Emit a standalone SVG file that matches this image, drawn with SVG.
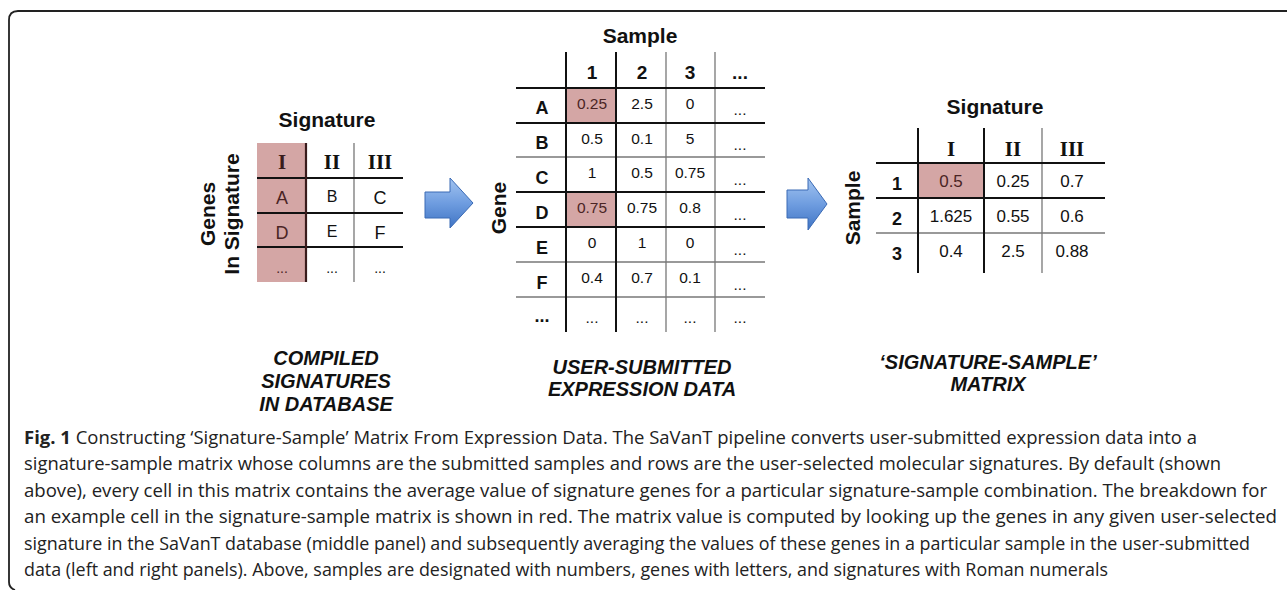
<svg xmlns="http://www.w3.org/2000/svg" width="1287" height="590" viewBox="0 0 1287 590">
<defs>
<linearGradient id="ag" x1="0" y1="0" x2="0" y2="1">
<stop offset="0" stop-color="#a3c4f0"/>
<stop offset="0.5" stop-color="#6f9de0"/>
<stop offset="1" stop-color="#3f74c4"/>
</linearGradient>
<style>
.t{font-family:"Liberation Sans",Arial,sans-serif;fill:#111;text-anchor:middle}
.b{font-weight:bold}
.ttl{font-size:21px;font-weight:bold}
.rom{font-family:"Liberation Serif","Times New Roman",serif;font-weight:bold;font-size:21px;fill:#111;text-anchor:middle}
.cap{font-size:20px;font-weight:bold;font-style:italic}
.thick{stroke:#111;stroke-width:2;fill:none}
.thin{stroke:#777;stroke-width:1.3;fill:none}
.brown{stroke:#3a1c1c;stroke-width:2.2;fill:none}
.pink{fill:#d4a6a5}
.pinkb{fill:#d4a6a5;stroke:#5a2222;stroke-width:1.5}
.pt{fill:#4a2424}
.arrow{fill:url(#ag);stroke:#3a6ab5;stroke-width:1}
.fig{font-family:"Open Sans","Noto Sans",sans-serif;font-size:18px;fill:#222}
</style>
</defs>
<path d="M1287,11 H18 Q9,11 9,20 V582 Q9,588 15,590" fill="none" stroke="#222" stroke-width="1.8"/>

<g id="left-panel">
<text class="t ttl" x="327" y="127">Signature</text>
<text class="t ttl" transform="translate(215,214) rotate(-90)">Genes</text>
<text class="t ttl" transform="translate(239,214) rotate(-90)">In Signature</text>
<rect class="pink" x="257" y="143" width="49" height="139"/>
<line class="thin" x1="354" y1="143" x2="354" y2="282"/>
<line class="thick" x1="257" y1="178" x2="403" y2="178"/>
<line class="thick" x1="257" y1="213" x2="403" y2="213"/>
<line class="thick" x1="257" y1="247" x2="403" y2="247"/>
<line class="brown" x1="306" y1="143" x2="306" y2="282"/>
<text class="rom" x="282" y="169" style="fill:#3a1c1c">I</text>
<text class="rom" x="332" y="169">II</text>
<text class="rom" x="380" y="169">III</text>
<text class="t pt" x="282" y="204" font-size="18">A</text>
<text class="t" x="332" y="202" font-size="16">B</text>
<text class="t" x="380" y="204" font-size="18">C</text>
<text class="t pt" x="282" y="239" font-size="18">D</text>
<text class="t" x="332" y="237" font-size="16">E</text>
<text class="t" x="380" y="239" font-size="18">F</text>
<text class="t pt" x="282" y="273" font-size="14">...</text>
<text class="t" x="332" y="273" font-size="14">...</text>
<text class="t" x="380" y="273" font-size="14">...</text>
<text class="t cap" x="326" y="365">COMPILED</text>
<text class="t cap" x="326" y="388">SIGNATURES</text>
<text class="t cap" x="326" y="411">IN DATABASE</text>
</g>

<g id="arrows">
<path class="arrow" d="M425,192 H450 V178 L473,203 L450,228 V218 H425 Z"/>
<path class="arrow" d="M787,190 H808 V178 L827,204 L808,230 V218 H787 Z"/>
</g>

<g id="middle-panel">
<text class="t ttl" x="640" y="43">Sample</text>
<text class="t ttl" transform="translate(506,208) rotate(-90)">Gene</text>
<rect class="pinkb" x="566" y="88" width="50" height="35"/>
<rect class="pinkb" x="566" y="192" width="50" height="35"/>
<line class="thin" x1="516" y1="157" x2="765" y2="157"/>
<line class="thin" x1="516" y1="262" x2="765" y2="262"/>
<line class="thin" x1="516" y1="297" x2="765" y2="297"/>
<line class="thin" x1="666" y1="52" x2="666" y2="332"/>
<line class="thin" x1="715" y1="52" x2="715" y2="332"/>
<line class="thick" x1="516" y1="88" x2="765" y2="88"/>
<line class="thick" x1="516" y1="123" x2="765" y2="123"/>
<line class="thick" x1="516" y1="192" x2="765" y2="192"/>
<line class="thick" x1="516" y1="227" x2="765" y2="227"/>
<line class="thick" x1="566" y1="52" x2="566" y2="332"/>
<line class="thick" x1="616" y1="52" x2="616" y2="332"/>
<g class="t b" font-size="19">
<text x="592" y="79">1</text><text x="642" y="79">2</text><text x="690" y="79">3</text><text x="740" y="79">...</text>
</g>
<g class="t b" font-size="18">
<text x="542" y="114">A</text><text x="542" y="149">B</text><text x="542" y="184">C</text><text x="542" y="219">D</text><text x="542" y="254">E</text><text x="542" y="289">F</text><text x="542" y="322">...</text>
</g>
<g class="t" font-size="15.5">
<text class="pt" x="592" y="109">0.25</text><text x="642" y="109">2.5</text><text x="690" y="109">0</text><text x="740" y="115">...</text>
<text x="592" y="144">0.5</text><text x="642" y="144">0.1</text><text x="690" y="144">5</text><text x="740" y="150">...</text>
<text x="592" y="178">1</text><text x="642" y="178">0.5</text><text x="690" y="178">0.75</text><text x="740" y="185">...</text>
<text class="pt" x="592" y="213">0.75</text><text x="642" y="213">0.75</text><text x="690" y="213">0.8</text><text x="740" y="220">...</text>
<text x="592" y="248">0</text><text x="642" y="248">1</text><text x="690" y="248">0</text><text x="740" y="255">...</text>
<text x="592" y="283">0.4</text><text x="642" y="283">0.7</text><text x="690" y="283">0.1</text><text x="740" y="290">...</text>
<text x="592" y="323">...</text><text x="642" y="323">...</text><text x="690" y="323">...</text><text x="740" y="323">...</text>
</g>
<text class="t cap" x="642" y="374">USER-SUBMITTED</text>
<text class="t cap" x="642" y="396">EXPRESSION DATA</text>
</g>

<g id="right-panel">
<text class="t ttl" x="995" y="114">Signature</text>
<text class="t ttl" transform="translate(860,208) rotate(-90)">Sample</text>
<rect class="pinkb" x="918" y="163" width="66" height="35"/>
<line class="thin" x1="876" y1="233" x2="1105" y2="233"/>
<line class="thin" x1="1042" y1="128" x2="1042" y2="273"/>
<line class="thick" x1="876" y1="163" x2="1105" y2="163"/>
<line class="thick" x1="876" y1="198" x2="1105" y2="198"/>
<line class="thick" x1="918" y1="128" x2="918" y2="273"/>
<line class="thick" x1="984" y1="128" x2="984" y2="273"/>
<text class="rom" x="951" y="156">I</text>
<text class="rom" x="1013" y="156">II</text>
<text class="rom" x="1072" y="156">III</text>
<g class="t b" font-size="18">
<text x="897" y="190">1</text><text x="897" y="225">2</text><text x="897" y="260">3</text>
</g>
<g class="t" font-size="17">
<text class="pt" x="951" y="187">0.5</text><text x="1013" y="187">0.25</text><text x="1072" y="187">0.7</text>
<text x="951" y="222">1.625</text><text x="1013" y="222">0.55</text><text x="1072" y="222">0.6</text>
<text x="951" y="257">0.4</text><text x="1013" y="257">2.5</text><text x="1072" y="257">0.88</text>
</g>
<text class="t cap" x="988" y="369">‘SIGNATURE-SAMPLE’</text>
<text class="t cap" x="988" y="391">MATRIX</text>
</g>

<g id="caption" class="fig">
<text x="24" y="444" textLength="1173" lengthAdjust="spacingAndGlyphs"><tspan font-weight="bold">Fig. 1</tspan> Constructing ‘Signature-Sample’ Matrix From Expression Data. The SaVanT pipeline converts user-submitted expression data into a</text>
<text x="24" y="470" textLength="1197" lengthAdjust="spacingAndGlyphs">signature-sample matrix whose columns are the submitted samples and rows are the user-selected molecular signatures. By default (shown</text>
<text x="24" y="497" textLength="1243" lengthAdjust="spacingAndGlyphs">above), every cell in this matrix contains the average value of signature genes for a particular signature-sample combination. The breakdown for</text>
<text x="24" y="523" textLength="1253" lengthAdjust="spacingAndGlyphs">an example cell in the signature-sample matrix is shown in red. The matrix value is computed by looking up the genes in any given user-selected</text>
<text x="24" y="550" textLength="1226" lengthAdjust="spacingAndGlyphs">signature in the SaVanT database (middle panel) and subsequently averaging the values of these genes in a particular sample in the user-submitted</text>
<text x="24" y="576" textLength="1084" lengthAdjust="spacingAndGlyphs">data (left and right panels). Above, samples are designated with numbers, genes with letters, and signatures with Roman numerals</text>
</g>
</svg>
